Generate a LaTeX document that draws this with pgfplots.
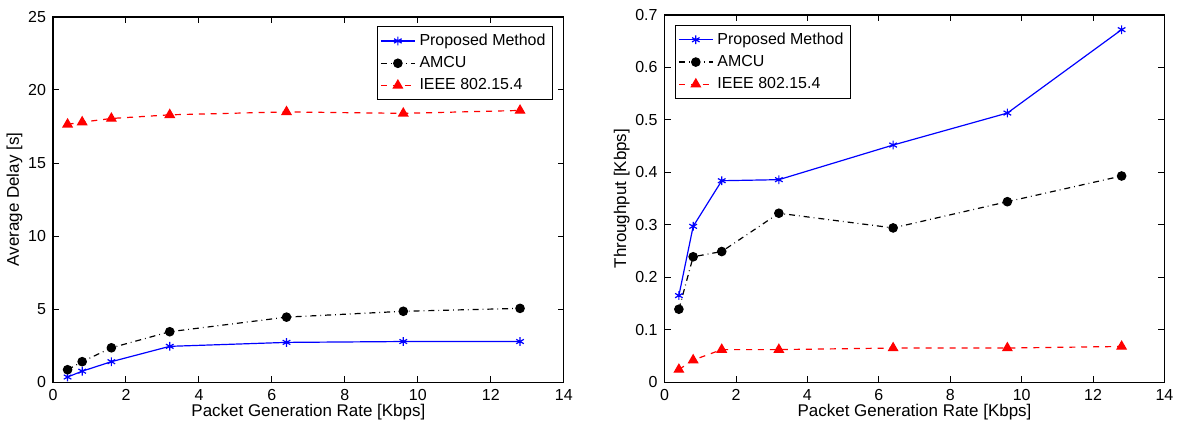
\documentclass[border=0pt]{standalone}
\usepackage{pgfplots}
\pgfplotsset{compat=1.18}
\usepackage{fontspec}
\setmainfont{Liberation Sans}
\begin{document}
\begin{tikzpicture}
\path (0pt,0pt) rectangle (590pt,212pt);
\pgfplotsset{
  myax/.style={
    scale only axis,
    axis line style={line width=0.6pt},
    tick align=inside,
    xtick pos=both, ytick pos=both,
    major tick length=3pt,
    tick style={black, line width=0.5pt},
    xmin=0, xmax=14, xtick={0,2,...,14},
    /pgf/number format/assume math mode=true,
    tick label style={font=\fontsize{8}{9}\selectfont},
    label style={font=\fontsize{8.5}{10}\selectfont},
    xlabel={Packet Generation Rate [Kbps]},
    xlabel style={yshift=5pt},
    ylabel style={yshift=-4pt},
    legend style={font=\fontsize{8}{9.5}\selectfont, draw=black, line width=0.6pt, inner sep=1.5pt, row sep=0pt, cells={anchor=west}},
    legend cell align=left,
    legend image post style={line width=0.6pt},
  },
  pm/.style={blue, solid, line width=0.6pt, mark=asterisk, mark size=2.2pt, mark options={solid, line width=0.6pt}},
  am/.style={black, dash dot, line width=0.6pt, mark=*, mark size=2.1pt, mark options={solid, fill=black}},
  ie/.style={red, dashed, line width=0.6pt, mark=triangle*, mark size=2.6pt, mark options={solid, fill=red}},
}
\begin{axis}[myax, at={(25.5pt,20.5pt)}, anchor=south west, width=256pt, height=183pt,
  ymin=0, ymax=25, ytick={0,5,...,25},
  ylabel={Average Delay [s]},
  legend style={at={(0.979,0.975)}, anchor=north east}]
\addplot[pm] coordinates {(0.4,0.35) (0.8,0.75) (1.6,1.4) (3.2,2.45) (6.4,2.72) (9.6,2.78) (12.8,2.78)};
\addlegendentry{Proposed Method}
\addplot[am] coordinates {(0.4,0.85) (0.8,1.4) (1.6,2.35) (3.2,3.45) (6.4,4.45) (9.6,4.85) (12.8,5.05)};
\addlegendentry{AMCU}
\addplot[ie] coordinates {(0.4,17.65) (0.8,17.8) (1.6,18.05) (3.2,18.3) (6.4,18.5) (9.6,18.4) (12.8,18.6)};
\addlegendentry{IEEE 802.15.4}
\end{axis}
\begin{axis}[myax, at={(332pt,20.5pt)}, anchor=south west, width=250.5pt, height=184pt,
  ymin=0, ymax=0.7, ytick={0,0.1,...,0.7},
  yticklabel style={/pgf/number format/fixed, /pgf/number format/precision=1},
  ylabel={Throughput [Kbps]},
  legend style={at={(0.02,0.973)}, anchor=north west}]
\addplot[pm] coordinates {(0.4,0.165) (0.8,0.297) (1.6,0.384) (3.2,0.386) (6.4,0.452) (9.6,0.513) (12.8,0.672)};
\addlegendentry{Proposed Method}
\addplot[am] coordinates {(0.4,0.139) (0.8,0.239) (1.6,0.249) (3.2,0.322) (6.4,0.294) (9.6,0.344) (12.8,0.393)};
\addlegendentry{AMCU}
\addplot[ie] coordinates {(0.4,0.024) (0.8,0.042) (1.6,0.062) (3.2,0.062) (6.4,0.065) (9.6,0.065) (12.8,0.068)};
\addlegendentry{IEEE 802.15.4}
\end{axis}
\end{tikzpicture}
\end{document}
